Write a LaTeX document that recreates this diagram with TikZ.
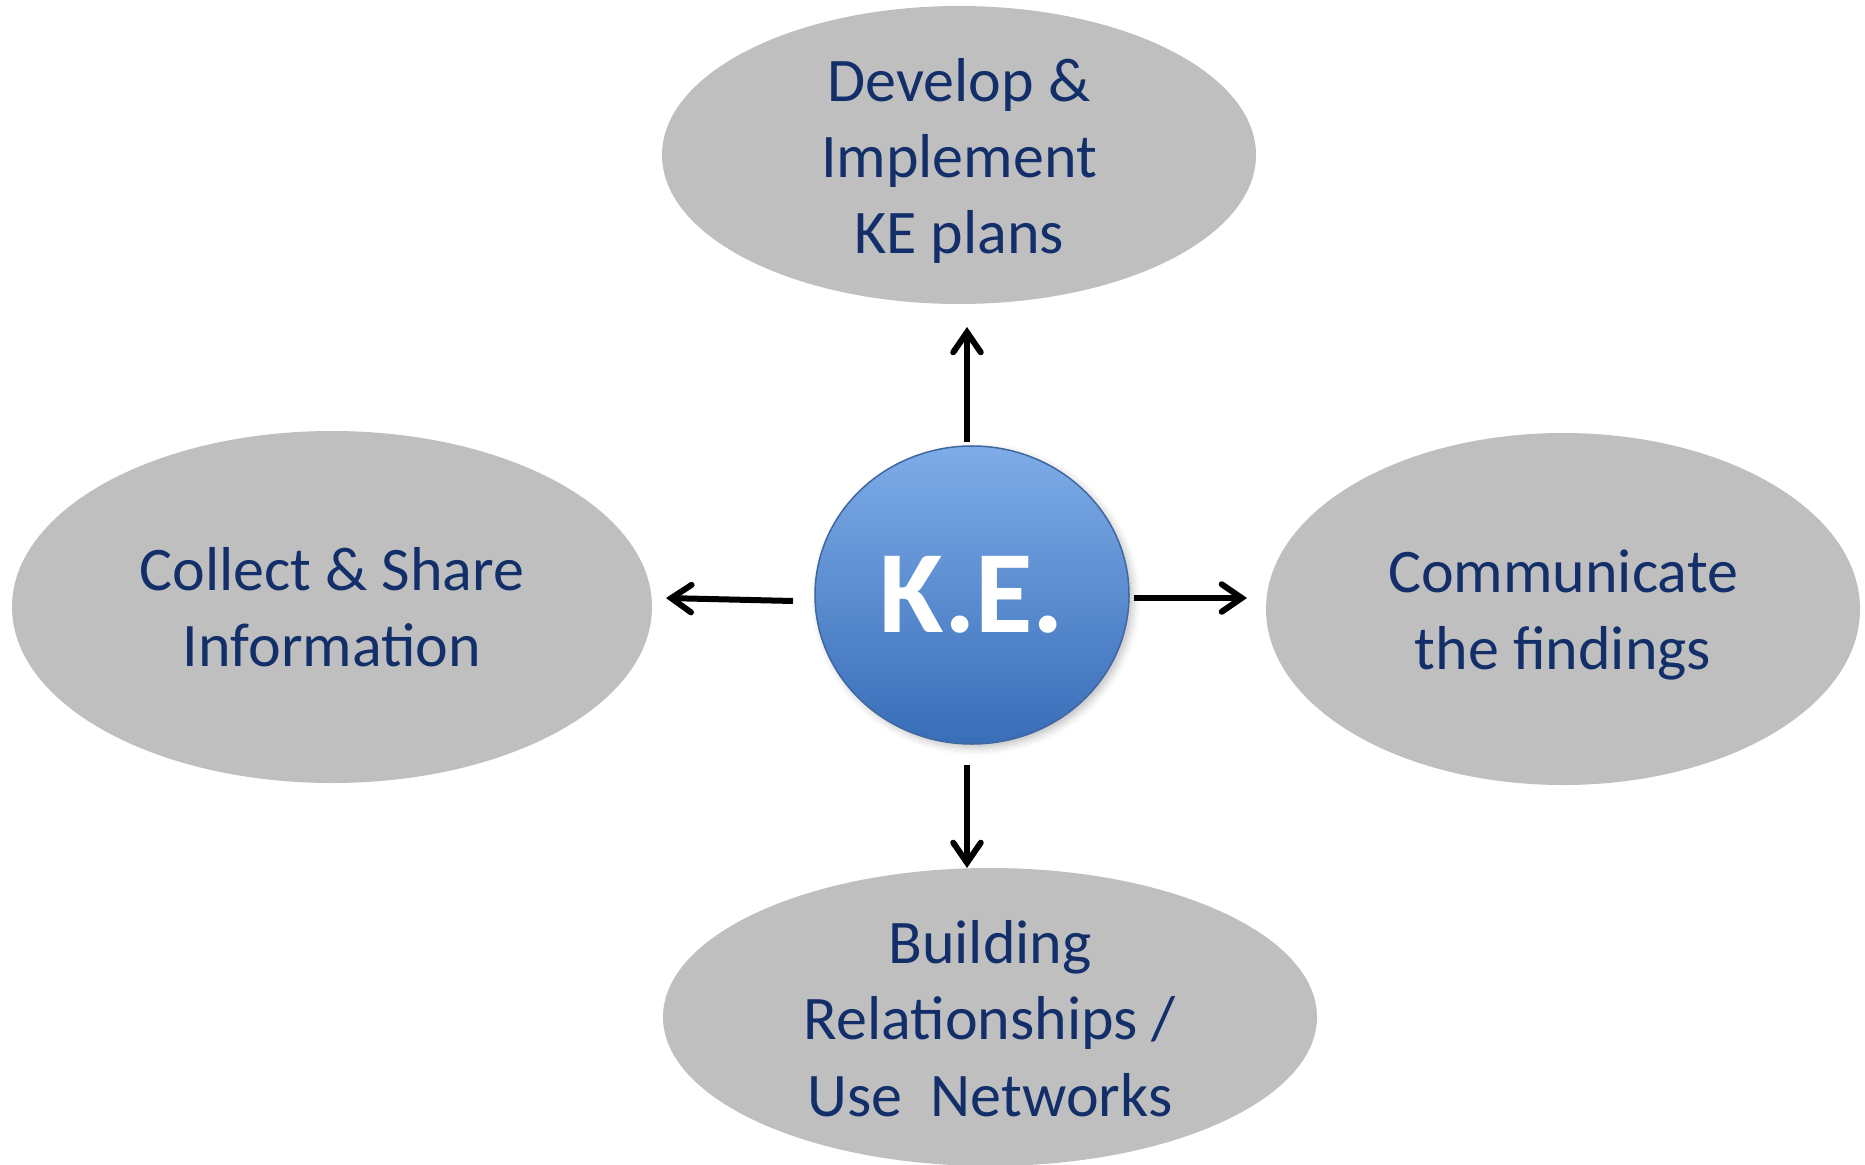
\documentclass[tikz,border=0pt]{standalone}
\usepackage{fontspec}
\setmainfont{Carlito}
\usetikzlibrary{shapes.geometric,arrows.meta,shadows.blur}
\definecolor{ellgray}{HTML}{BFBFBF}
\definecolor{navy}{HTML}{122F6A}
\definecolor{bluetop}{HTML}{7EACE8}
\definecolor{bluebot}{HTML}{386DB8}
\definecolor{blueedge}{HTML}{3F67A0}
\tikzset{
  ellnode/.style={ellipse, fill=ellgray, inner sep=0pt},
  elltext/.style={text=navy, font=\fontsize{24.8}{30.5}\selectfont, align=center, inner sep=0pt},
  kenode/.style={ellipse, top color=bluetop, bottom color=bluebot, draw=blueedge,
    line width=0.6pt, inner sep=0pt, minimum width=125.6pt, minimum height=119.2pt,
    text=white, font=\fontsize{47}{50}\selectfont\bfseries,
    blur shadow={shadow xshift=1.5pt, shadow yshift=-1.5pt, shadow blur radius=3pt, shadow opacity=25}},
  conn/.style={line width=2.4pt, -{Straight Barb[length=8pt, width=11pt, line width=2.4pt, line cap=round]}}
}
\begin{document}
\begin{tikzpicture}[x=0.4pt, y=-0.4pt]
\useasboundingbox (0,0) rectangle (1865,1165);
\node[ellnode, minimum width=237.6pt, minimum height=119.2pt,
  label={[elltext, yshift=-2.4pt]center:{Develop \&\\Implement\\KE plans}}] (top) at (959,155) {};
\node[ellnode, minimum width=256pt, minimum height=140.8pt,
  label={[elltext]center:{Collect \& Share\\Information}}] (left) at (332,607) {};
\node[ellnode, minimum width=237.6pt, minimum height=140.8pt,
  label={[elltext, yshift=-2.4pt]center:{Communicate\\the findings}}] (right) at (1563,609) {};
\node[ellnode, minimum width=261.6pt, minimum height=119.2pt,
  label={[elltext, yshift=-0.6pt]center:{Building\\Relationships /\\Use\ \ Networks}}] (bottom) at (990,1017) {};
\node[kenode] (ke) at (972,595) {K.E.};
\coordinate (upS) at (967,442);
\coordinate (upE) at (967,327);
\coordinate (lfS) at (793,601);
\coordinate (lfE) at (666,598);
\coordinate (rtS) at (1134,598);
\coordinate (rtE) at (1247,598);
\coordinate (dnS) at (967,765);
\coordinate (dnE) at (967,868);
\draw[conn] (upS) -- (upE);
\draw[conn] (lfS) -- (lfE);
\draw[conn] (rtS) -- (rtE);
\draw[conn] (dnS) -- (dnE);
\end{tikzpicture}
\end{document}
